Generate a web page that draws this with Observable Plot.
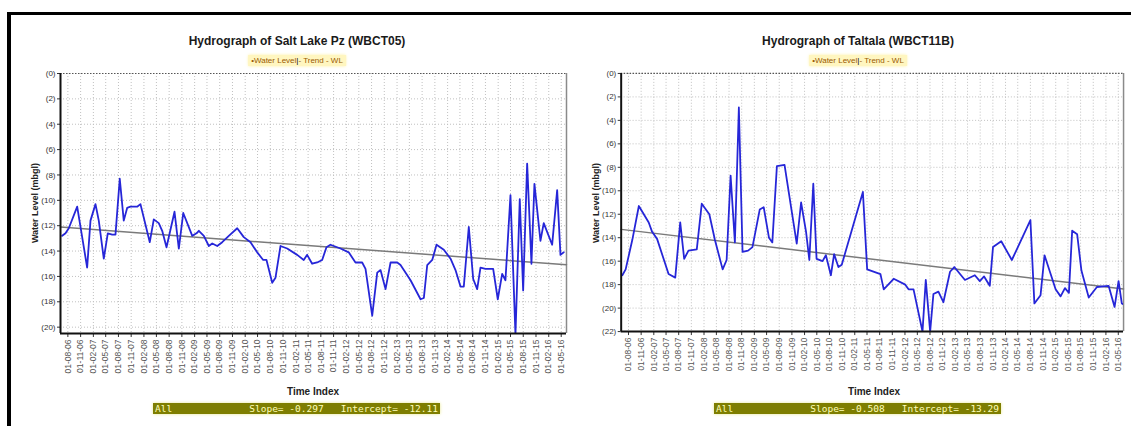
<!DOCTYPE html>
<html>
<head>
<meta charset="utf-8">
<script src="https://cdn.jsdelivr.net/npm/d3@7"></script>
<script src="https://cdn.jsdelivr.net/npm/@observablehq/plot@0.6"></script>
<style>
  html, body { margin: 0; padding: 0; background: #fff; }
  #page { position: relative; width: 1131px; height: 426px; overflow: hidden; background: #fff;
          font-family: "Liberation Sans", Arial, sans-serif; }
  .frame-top { position: absolute; left: 7px; top: 12px; width: 1124px; height: 3px; background: #000; }
  .frame-left { position: absolute; left: 7px; top: 12px; width: 4px; height: 414px; background: #000; }
  .title { position: absolute; top: 34px; font-size: 12px; font-weight: bold; color: #1a1a1a;
           transform: translateX(-50%); white-space: nowrap; }
  .legend { position: absolute; top: 55px; font-size: 8px; color: #9a5a00; background: #fff6c0;
            padding: 1px 3px; transform: translateX(-50%); white-space: nowrap; box-shadow: 0 0 3px #fff0a0; }
  .legend b { color: #000; font-weight: normal; }
  .ylab { position: absolute; font-size: 9px; font-weight: bold; color: #222; white-space: nowrap;
          transform: translate(-50%, -50%) rotate(-90deg); }
  .xlab { position: absolute; top: 386px; font-size: 10px; font-weight: bold; color: #222;
          transform: translateX(-50%); white-space: nowrap; }
  .stats { position: absolute; top: 403px; height: 11px; background: #7e7e00; color: #ffffb8;
           font-family: "DejaVu Sans Mono", monospace; font-size: 9.5px; line-height: 11px;
           white-space: pre; box-shadow: 0 0 3px #e8e890; }
  .stats .all { position: absolute; left: 2px; }
  .stats .fit { position: absolute; right: 2px; }
  .chart { position: absolute; top: 65px; }
</style>
</head>
<body>
<div id="page">
  <div class="frame-top"></div>
  <div class="frame-left"></div>
</div>
<script>
// Sampling dates (decimal years) and water levels (m below ground, negative) for each well
const saltLakeYears = [
  2006.468, 2006.534, 2006.599, 2006.765, 2006.962, 2007.028, 2007.127, 2007.192, 2007.291, 2007.370,
  2007.457, 2007.522, 2007.607, 2007.686, 2007.753, 2007.818, 2007.951, 2008.016, 2008.200, 2008.279,
  2008.377, 2008.445, 2008.530, 2008.688, 2008.773, 2008.860, 2009.038, 2009.123, 2009.168, 2009.267,
  2009.366, 2009.433, 2009.532, 2009.630, 2009.761, 2009.927, 2010.057, 2010.190, 2010.322, 2010.441,
  2010.506, 2010.619, 2010.684, 2010.783, 2010.915, 2011.113, 2011.243, 2011.310, 2011.409, 2011.508,
  2011.607, 2011.692, 2011.771, 2011.969, 2012.132, 2012.265, 2012.397, 2012.463, 2012.595, 2012.694,
  2012.759, 2012.858, 2012.957, 2013.089, 2013.154, 2013.352, 2013.550, 2013.615, 2013.682, 2013.781,
  2013.866, 2014.010, 2014.143, 2014.241, 2014.340, 2014.405, 2014.504, 2014.591, 2014.670, 2014.735,
  2014.834, 2014.986, 2015.077, 2015.164, 2015.229, 2015.328, 2015.427, 2015.512, 2015.579, 2015.658,
  2015.743, 2015.802, 2015.921, 2015.986, 2016.152, 2016.251, 2016.316, 2016.381
];
const saltLakeLevels = [
  -12.8, -12.6, -12.2, -10.5, -15.3, -11.6, -10.3, -11.6, -14.6, -12.6,
  -12.7, -12.7, -8.3, -11.6, -10.6, -10.5, -10.5, -10.3, -13.3, -11.5,
  -11.8, -12.4, -13.7, -10.9, -13.8, -11.0, -12.8, -12.6, -12.4, -12.8,
  -13.6, -13.4, -13.6, -13.3, -12.8, -12.2, -12.9, -13.3, -14.1, -14.7,
  -14.7, -16.5, -16.1, -13.6, -13.8, -14.3, -14.7, -14.3, -15.0, -14.9,
  -14.7, -13.7, -13.5, -13.8, -14.1, -14.9, -14.9, -15.4, -19.1, -15.7,
  -15.5, -17.0, -14.9, -14.9, -15.1, -16.3, -17.8, -17.7, -15.1, -14.7,
  -13.5, -13.9, -14.6, -15.5, -16.8, -16.8, -12.1, -16.2, -17.0, -15.3,
  -15.4, -15.4, -17.8, -15.8, -16.3, -9.6, -20.6, -9.9, -17.1, -7.1,
  -15.0, -8.7, -13.2, -11.8, -13.5, -9.2, -14.3, -14.1
];

const taltalaYears = [
  2006.458, 2006.524, 2006.656, 2006.787, 2006.984, 2007.051, 2007.150, 2007.379, 2007.512, 2007.611,
  2007.690, 2007.775, 2007.941, 2008.040, 2008.190, 2008.302, 2008.455, 2008.534, 2008.613, 2008.698,
  2008.777, 2008.850, 2008.960, 2009.047, 2009.192, 2009.271, 2009.376, 2009.443, 2009.534, 2009.686,
  2009.929, 2010.016, 2010.115, 2010.180, 2010.259, 2010.324, 2010.443, 2010.510, 2010.609, 2010.674,
  2010.759, 2010.826, 2011.247, 2011.332, 2011.597, 2011.662, 2011.860, 2012.091, 2012.156, 2012.255,
  2012.433, 2012.498, 2012.585, 2012.650, 2012.749, 2012.848, 2012.980, 2013.065, 2013.277, 2013.474,
  2013.573, 2013.658, 2013.771, 2013.836, 2014.000, 2014.211, 2014.581, 2014.660, 2014.783, 2014.862,
  2015.083, 2015.182, 2015.269, 2015.348, 2015.413, 2015.512, 2015.597, 2015.743, 2015.906, 2016.138,
  2016.257, 2016.336, 2016.400, 2016.440
];
const taltalaLevels = [
  -17.2, -16.7, -14.2, -11.3, -12.7, -13.5, -14.1, -17.1, -17.4, -12.7,
  -15.8, -15.1, -15.0, -11.1, -12.0, -14.2, -16.7, -15.9, -8.7, -14.4,
  -2.9, -15.2, -15.1, -14.8, -11.6, -11.4, -14.0, -14.4, -7.9, -7.8,
  -14.5, -11.0, -13.5, -15.9, -9.4, -15.8, -16.0, -15.5, -17.2, -15.4,
  -16.5, -16.3, -10.1, -16.7, -17.1, -18.4, -17.5, -18.0, -18.4, -18.4,
  -22.0, -17.6, -22.0, -18.8, -18.6, -19.5, -16.9, -16.5, -17.6, -17.2,
  -17.7, -17.3, -18.1, -14.8, -14.3, -15.9, -12.5, -19.6, -18.9, -15.5,
  -18.4, -19.0, -18.3, -18.7, -13.4, -13.7, -16.8, -19.1, -18.2, -18.1,
  -19.9, -17.7, -19.6, -19.7
];

// Axis extents, ticks and fitted trend statistics
const timeStart = 2006.435;
const timeEnd = 2016.435;
const saltLakeTicks = [0, -2, -4, -6, -8, -10, -12, -14, -16, -18, -20];
const taltalaTicks = [0, -2, -4, -6, -8, -10, -12, -14, -16, -18, -20, -22];
const saltLakeStats = { slope: -0.297, intercept: -12.11 };
const taltalaStats = { slope: -0.508, intercept: -13.29 };
const saltLakeTitle = "Hydrograph of Salt Lake Pz (WBCT05)";
const taltalaTitle = "Hydrograph of Taltala (WBCT11B)";

function yearToDate(y) {
  const yr = Math.floor(y);
  const a = Date.UTC(yr, 0, 1), b = Date.UTC(yr + 1, 0, 1);
  return new Date(a + (y - yr) * (b - a));
}

const xDomain = [yearToDate(timeStart), yearToDate(timeEnd)];
// quarterly labels 01-08-06 ... 01-05-16
const quarterTicks = d3.utcMonth.range(new Date(Date.UTC(2006, 7, 1)), new Date(Date.UTC(2016, 5, 2)), 3);
const fmtDay = d3.utcFormat("%d-%m-%y");

function hydrograph({ years, levels, stats, yMin, yTicks, width, marginRight }) {
  const series = years.map((t, i) => ({ date: yearToDate(t), level: levels[i] }));
  const span = timeEnd - timeStart;
  const trend = [
    { date: xDomain[0], level: stats.intercept },
    { date: xDomain[1], level: stats.intercept + stats.slope * span }
  ];
  return Plot.plot({
    width,
    height: 318,
    marginLeft: 45,
    marginRight,
    marginTop: 8,
    marginBottom: 50,
    style: { fontFamily: "'Liberation Sans', Arial, sans-serif", fontSize: "8px", color: "#333", background: "transparent", overflow: "visible" },
    x: { type: "utc", domain: xDomain },
    y: { domain: [yMin, 0] },
    marks: [
      Plot.gridX(quarterTicks, { stroke: "#c0c0c0", strokeOpacity: 1, strokeDasharray: "1,2" }),
      Plot.gridY(yTicks, { stroke: "#c0c0c0", strokeOpacity: 1, strokeDasharray: "1,2" }),
      Plot.ruleY([0], { stroke: "#555", strokeDasharray: "1.5,1.5", strokeWidth: 1.2 }),
      Plot.ruleX([xDomain[1]], { stroke: "#8a8a8a", strokeWidth: 1.5 }),
      Plot.line(trend, { x: "date", y: "level", stroke: "#7a7a7a", strokeWidth: 1.5 }),
      Plot.line(series, { x: "date", y: "level", stroke: "#2626d8", strokeWidth: 1.8, clip: true }),
      Plot.axisX({ ticks: quarterTicks, tickFormat: fmtDay, tickRotate: -90, tickSize: 4, tickPadding: 2,
                   label: null, fontSize: 8.5, fill: "#555" }),
      Plot.axisY({ ticks: yTicks, tickFormat: d => `(${Math.abs(d)})`, tickSize: 3, tickPadding: 2,
                   label: null, fill: "#333" }),
      Plot.ruleX([xDomain[0]], { stroke: "#111", strokeWidth: 2 }),
      Plot.ruleY([yMin], { stroke: "#111", strokeWidth: 2 })
    ]
  });
}

const page = document.getElementById("page");

function addPanel({ left, width, marginRight, title, years, levels, stats, yMin, yTicks }) {
  const plotLeft = left + 45;
  const plotRight = left + width - marginRight;
  const mid = (plotLeft + plotRight) / 2;

  const t = document.createElement("div");
  t.className = "title"; t.style.left = (mid - 16) + "px"; t.textContent = title;
  page.appendChild(t);

  const lg = document.createElement("div");
  lg.className = "legend"; lg.style.left = (mid - 16) + "px";
  lg.innerHTML = "\u2022Water Level<b>|</b>- Trend - WL";
  page.appendChild(lg);

  const holder = document.createElement("div");
  holder.className = "chart"; holder.style.left = left + "px";
  holder.appendChild(hydrograph({ years, levels, stats, yMin, yTicks, width, marginRight }));
  page.appendChild(holder);

  const yl = document.createElement("div");
  yl.className = "ylab"; yl.style.left = (left + 20) + "px"; yl.style.top = "203px";
  yl.textContent = "Water Level (mbgl)";
  page.appendChild(yl);

  const xl = document.createElement("div");
  xl.className = "xlab"; xl.style.left = mid + "px"; xl.textContent = "Time Index";
  page.appendChild(xl);

  const st = document.createElement("div");
  st.className = "stats"; st.style.left = (plotLeft + 93) + "px"; st.style.width = "287px";
  st.innerHTML = `<span class="all">All</span><span class="fit">Slope= ${stats.slope.toFixed(3)}   Intercept= ${stats.intercept.toFixed(2)}</span>`;
  page.appendChild(st);
}

addPanel({ left: 15, width: 560, marginRight: 9, title: saltLakeTitle,
           years: saltLakeYears, levels: saltLakeLevels, stats: saltLakeStats, yMin: -20.5, yTicks: saltLakeTicks });
addPanel({ left: 576, width: 559, marginRight: 8, title: taltalaTitle,
           years: taltalaYears, levels: taltalaLevels, stats: taltalaStats, yMin: -22, yTicks: taltalaTicks });
</script>
</body>
</html>
